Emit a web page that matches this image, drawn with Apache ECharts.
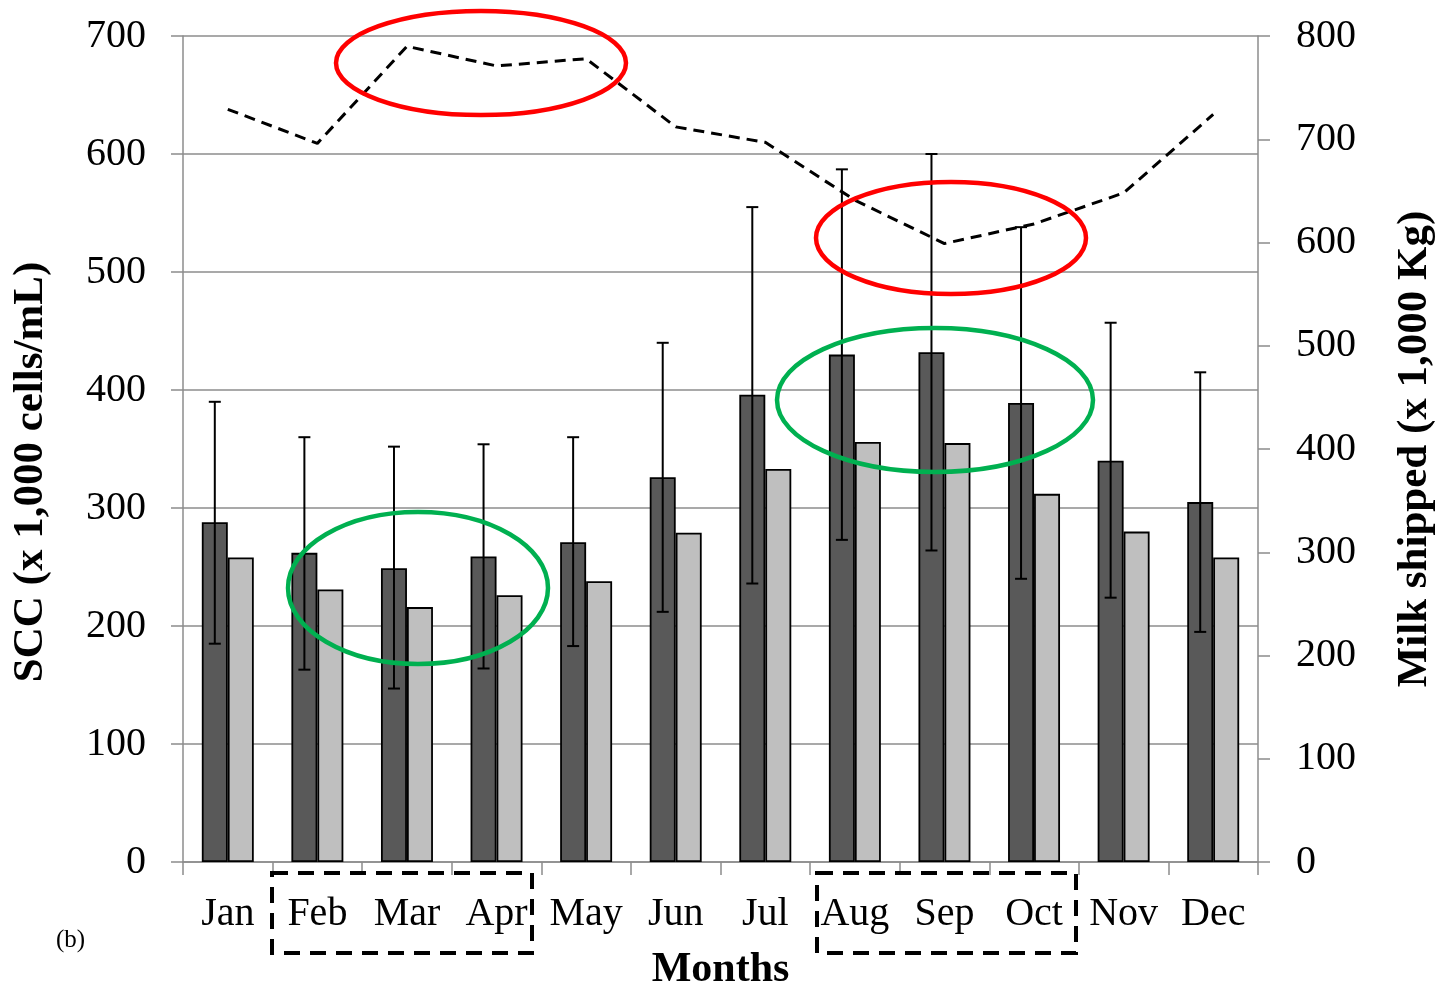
<!DOCTYPE html>
<html>
<head>
<meta charset="utf-8">
<script src="https://cdn.jsdelivr.net/npm/echarts@6/dist/echarts.min.js"></script>
<style>
  html, body { margin: 0; padding: 0; background: #fff; }
  #chart { width: 1443px; height: 986px; }
</style>
</head>
<body>
<div id="chart"></div>
<script>
// Monthly somatic cell count (bars, left axis) and milk shipped (dashed line, right axis)
const months = ['Jan', 'Feb', 'Mar', 'Apr', 'May', 'Jun', 'Jul', 'Aug', 'Sep', 'Oct', 'Nov', 'Dec'];
const sccDark = [288, 262, 249, 259, 271, 326, 396, 430, 432, 389, 340, 305];
const sccLight = [258, 231, 216, 226, 238, 279, 333, 356, 355, 312, 280, 258];
const errLow = [185, 163, 147, 164, 183, 212, 236, 273, 264, 240, 224, 195];
const errHigh = [390, 360, 352, 354, 360, 440, 555, 587, 600, 538, 457, 415];
const milkShipped = [729, 696, 790, 771, 778, 712, 697, 641, 599, 618, 648, 724];
const leftTicks = { min: 0, max: 700, interval: 100 };
const rightTicks = { min: 0, max: 800, interval: 100 };

const FONT = '"Liberation Serif", "Times New Roman", serif';
const GRID_GRAY = '#8c8c8c';
const BAR_FRAC = 0.29;

const chart = echarts.init(document.getElementById('chart'), null, { renderer: 'canvas' });

function errorBarItem(params, api) {
  const i = api.value(0);
  const hi = api.coord([i, api.value(2)]);
  const lo = api.coord([i, api.value(1)]);
  const band = api.size([1, 0])[0];
  const x = hi[0] - band * BAR_FRAC / 2;
  const cap = 6;
  const style = { stroke: '#000', lineWidth: 2 };
  return {
    type: 'group',
    children: [
      { type: 'line', shape: { x1: x, y1: hi[1], x2: x, y2: lo[1] }, style },
      { type: 'line', shape: { x1: x - cap, y1: hi[1], x2: x + cap, y2: hi[1] }, style },
      { type: 'line', shape: { x1: x - cap, y1: lo[1], x2: x + cap, y2: lo[1] }, style }
    ]
  };
}

const dashedBox = (x, y, w, h) => ({
  type: 'rect',
  shape: { x, y, width: w, height: h },
  style: { fill: 'none', stroke: '#000', lineWidth: 4, lineDash: [16, 10] },
  z: 100
});
const ring = (cx, cy, rx, ry, color) => ({
  type: 'ellipse',
  shape: { cx, cy, rx, ry },
  style: { fill: 'none', stroke: color, lineWidth: 4.5 },
  z: 100
});

chart.setOption({
  animation: false,
  backgroundColor: '#fff',
  textStyle: { fontFamily: FONT },
  grid: { left: 183, right: 185, top: 36, bottom: 124, containLabel: false, outerBoundsMode: 'none' },
  xAxis: {
    type: 'category',
    data: months,
    boundaryGap: true,
    name: 'Months',
    nameLocation: 'middle',
    nameGap: 87,
    nameTextStyle: { fontFamily: FONT, fontSize: 42, fontWeight: 'bold', color: '#000' },
    axisLine: { lineStyle: { color: GRID_GRAY, width: 1.5 } },
    axisTick: { show: true, alignWithLabel: false, length: 13, lineStyle: { color: GRID_GRAY, width: 1.5 } },
    axisLabel: { fontFamily: FONT, fontSize: 40, color: '#000', margin: 32, interval: 0 }
  },
  yAxis: [
    {
      type: 'value',
      position: 'left',
      min: leftTicks.min, max: leftTicks.max, interval: leftTicks.interval,
      name: 'SCC (x 1,000 cells/mL)',
      nameLocation: 'middle',
      nameGap: 131,
      nameRotate: 90,
      nameTextStyle: { fontFamily: FONT, fontSize: 43, fontWeight: 'bold', color: '#000', padding: [0, 46, 0, 0] },
      axisLine: { show: true, lineStyle: { color: GRID_GRAY, width: 1.5 } },
      axisTick: { show: true, length: 12, lineStyle: { color: GRID_GRAY, width: 1.5 } },
      axisLabel: { fontFamily: FONT, fontSize: 40, color: '#000', margin: 37 },
      splitLine: { show: true, lineStyle: { color: GRID_GRAY, width: 1.5 } }
    },
    {
      type: 'value',
      position: 'right',
      min: rightTicks.min, max: rightTicks.max, interval: rightTicks.interval,
      name: 'Milk shipped (x 1,000 Kg)',
      nameLocation: 'middle',
      nameGap: 135,
      nameRotate: 90,
      nameTextStyle: { fontFamily: FONT, fontSize: 43, fontWeight: 'bold', color: '#000' },
      axisLine: { show: true, lineStyle: { color: GRID_GRAY, width: 1.5 } },
      axisTick: { show: true, length: 12, lineStyle: { color: GRID_GRAY, width: 1.5 } },
      axisLabel: { fontFamily: FONT, fontSize: 40, color: '#000', margin: 38 },
      splitLine: { show: false }
    }
  ],
  series: [
    {
      type: 'bar',
      data: sccDark,
      barWidth: (BAR_FRAC * 100) + '%',
      barGap: '0%',
      itemStyle: { color: '#595959', borderColor: '#000', borderWidth: 1.8 },
      z: 2
    },
    {
      type: 'bar',
      data: sccLight,
      barWidth: (BAR_FRAC * 100) + '%',
      barGap: '0%',
      itemStyle: { color: '#bfbfbf', borderColor: '#000', borderWidth: 1.8 },
      z: 2
    },
    {
      type: 'custom',
      renderItem: errorBarItem,
      data: errLow.map((lo, i) => [i, lo, errHigh[i]]),
      encode: { x: 0, y: [1, 2] },
      z: 3
    },
    {
      type: 'line',
      yAxisIndex: 1,
      data: milkShipped,
      symbol: 'none',
      lineStyle: { color: '#000', width: 3, type: [11, 7] },
      z: 4
    }
  ],
  graphic: [
    ring(481, 63, 145, 52, '#ff0000'),
    ring(951, 238, 135, 56, '#ff0000'),
    ring(418, 588, 130, 76, '#00b050'),
    ring(935, 400, 158, 72, '#00b050'),
    dashedBox(272, 873, 260, 80),
    dashedBox(817, 873, 259, 80),
    {
      type: 'text',
      left: 56, top: 928,
      style: { text: '(b)', font: '25px ' + FONT, fill: '#000' },
      z: 100
    }
  ]
});
</script>
</body>
</html>
